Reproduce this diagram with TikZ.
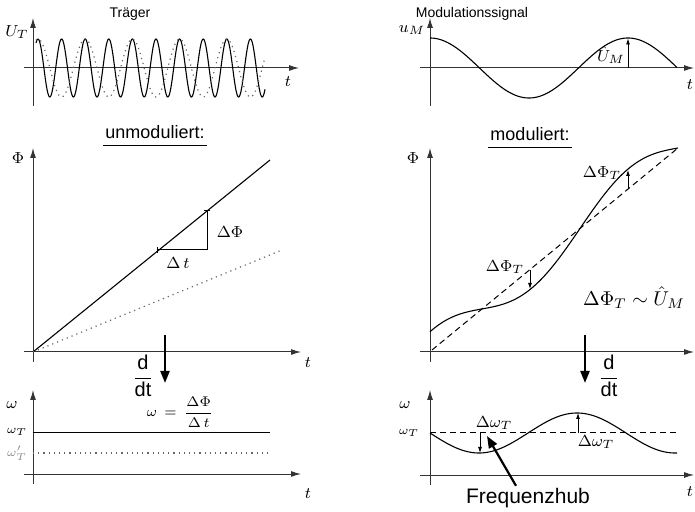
\documentclass[tikz,border=0pt]{standalone}
\usepackage{amsmath}
\usepackage{fontspec}
\setsansfont{Liberation Sans}
\usetikzlibrary{arrows.meta, positioning}

\begin{document}
\begin{tikzpicture}[
    x=0.5pt, y=-0.5pt,
    axis/.style={-{Latex[length=5pt,width=3pt]}, line width=0.5pt, black!80},
    curve/.style={line width=0.55pt},
    dotline/.style={dotted, line width=0.6pt, black!60},
    dashline/.style={dash pattern=on 3pt off 2pt, line width=0.5pt},
    dev/.style={-{Latex[length=3pt,width=2pt]}, line width=0.4pt},
    bigarrow/.style={-{Triangle[length=6pt,width=4.5pt]}, line width=1.1pt},
    title/.style={font=\sffamily\fontsize{7}{8}\selectfont},
    head/.style={font=\sffamily\fontsize{9}{10}\selectfont, inner sep=1pt},
    lbl/.style={font=\fontsize{8}{9}\selectfont, inner sep=1pt},
    small/.style={font=\fontsize{6}{7}\selectfont, inner sep=1pt},
    ddt/.style={font=\sffamily\fontsize{10}{11}\selectfont, inner sep=1pt}
]
    \useasboundingbox (0,0) rectangle (695,512);

    % Traeger
    \coordinate (ut-top) at (33,18);
    \coordinate (ut-bot) at (33,106);
    \coordinate (ut-l) at (24,68);
    \coordinate (ut-r) at (299,68);
    \draw[axis] (ut-bot) -- (ut-top);
    \draw[axis] (ut-l) -- (ut-r);
    \draw[curve] plot[domain=36:265, samples=400, smooth] (\x, {68-29*cos((\x-38)*15.254)});
    \draw[dotline] plot[domain=36:265, samples=200, smooth] (\x, {68-29*cos((\x-38)*7.627)});
    \node[lbl] (ut-y) at (17,32) {$U_T$};
    \node[lbl] (ut-x) at (288,82) {$t$};
    \node[title] (traeger) at (130,14) {Träger};

    % Modulationssignal
    \coordinate (um-top) at (430,18);
    \coordinate (um-bot) at (430,106);
    \coordinate (um-l) at (420,68);
    \coordinate (um-r) at (694,68);
    \draw[axis] (um-bot) -- (um-top);
    \draw[axis] (um-l) -- (um-r);
    \draw[curve] plot[domain=430:677, samples=200, smooth] (\x, {68-30*cos((\x-430)*1.8182)});
    \coordinate (um-a) at (628,68);
    \coordinate (um-b) at (628,38.5);
    \draw[dev] (um-a) -- (um-b);
    \node[lbl] (um-hat) at (611,55) {$\hat{U}_M$};
    \node[lbl] (um-y) at (412,30) {$u_M$};
    \node[lbl] (um-x) at (690,85) {$t$};
    \node[title] (modsig) at (472,14) {Modulationssignal};

    % unmoduliert
    \node[head] (unmod) at (155,132) {unmoduliert:};
    \draw[line width=0.5pt] ([yshift=-2pt]unmod.south west) -- ([yshift=-2pt]unmod.south east);
    \coordinate (pu-o) at (33,352);
    \coordinate (pu-top) at (33,148);
    \coordinate (pu-bot) at (33,362);
    \coordinate (pu-l) at (24,352);
    \coordinate (pu-r) at (301,352);
    \draw[axis] (pu-bot) -- (pu-top);
    \draw[axis] (pu-l) -- (pu-r);
    \coordinate (pu-end) at (270,160);
    \draw[curve] (pu-o) -- (pu-end);
    \coordinate (pu-end2) at (282,250);
    \draw[dotline] (pu-o) -- (pu-end2);
    \coordinate (tri-a) at (157,250);
    \coordinate (tri-b) at (207,250);
    \coordinate (tri-c) at (207,211);
    \draw[line width=0.5pt] (tri-a) -- (tri-b) -- (tri-c);
    \draw[line width=0.5pt] ([yshift=1.5pt]tri-a) -- ([yshift=-1.5pt]tri-a);
    \draw[line width=0.5pt] ([xshift=-1.5pt]tri-c) -- ([xshift=1.5pt]tri-c);
    \node[lbl] (dphi) at (230,232) {$\Delta\Phi$};
    \node[lbl] (dt) at (178,263) {$\Delta\, t$};
    \node[lbl] (pu-y) at (18,158) {$\Phi$};
    \node[lbl] (pu-x) at (308,363) {$t$};

    % d/dt links
    \coordinate (dl-a) at (165,335);
    \coordinate (dl-b) at (165,383);
    \draw[bigarrow] (dl-a) -- (dl-b);
    \node[ddt] (ddt-l) at (143,376) {$\dfrac{\textsf{d}}{\textsf{dt}}$};

    % omega unmoduliert
    \coordinate (wu-top) at (33,390);
    \coordinate (wu-bot) at (33,484);
    \coordinate (wu-l) at (24,474);
    \coordinate (wu-r) at (301,474);
    \draw[axis] (wu-bot) -- (wu-top);
    \draw[axis] (wu-l) -- (wu-r);
    \coordinate (wt-a) at (33,433);
    \coordinate (wt-b) at (270,433);
    \draw[line width=0.5pt] (wt-a) -- (wt-b);
    \coordinate (wt2-a) at (33,453);
    \coordinate (wt2-b) at (272,453);
    \draw[dotline] (wt2-a) -- (wt2-b);
    \node[lbl] (wu-y) at (12,405) {$\omega$};
    \node[small] (wu-t) at (17,432) {$\omega_T$};
    \node[small, black!45] (wu-t2) at (17,453) {$\omega_T'$};
    \node[lbl] (wu-x) at (308,494) {$t$};
    \node[font=\fontsize{7}{8}\selectfont, inner sep=1pt] (wu-eq) at (180,412) {$\omega\,=\,\dfrac{\Delta\Phi}{\Delta\, t}$};

    % moduliert
    \node[head] (mod) at (530,134) {moduliert:};
    \draw[line width=0.5pt] ([yshift=-2pt]mod.south west) -- ([yshift=-2pt]mod.south east);
    \coordinate (pm-o) at (432,350);
    \coordinate (pm-top) at (430,148);
    \coordinate (pm-bot) at (430,362);
    \coordinate (pm-l) at (420,352);
    \coordinate (pm-r) at (694,352);
    \draw[axis] (pm-bot) -- (pm-top);
    \draw[axis] (pm-l) -- (pm-r);
    \coordinate (pm-end) at (678,148);
    \draw[dashline] (pm-o) -- (pm-end);
    \draw[curve] plot[domain=430:678, samples=200, smooth] (\x, {350-0.8211*(\x-432)+20*sin((\x-482)*1.8367)});
    \coordinate (pm-a1) at (530,270);
    \coordinate (pm-b1) at (530,289);
    \draw[dev] (pm-a1) -- (pm-b1);
    \coordinate (pm-a2) at (628,189);
    \coordinate (pm-b2) at (628,170);
    \draw[dev] (pm-a2) -- (pm-b2);
    \node[lbl] (dphi1) at (505,267) {$\Delta\Phi_T$};
    \node[lbl] (dphi2) at (602,173) {$\Delta\Phi_T$};
    \node[font=\fontsize{10}{11}\selectfont, inner sep=1pt] (prop) at (634,298) {$\Delta\Phi_T\sim\hat{U}_M$};
    \node[lbl] (pm-y) at (413,158) {$\Phi$};

    % d/dt rechts
    \coordinate (dr-a) at (585,335);
    \coordinate (dr-b) at (585,383);
    \draw[bigarrow] (dr-a) -- (dr-b);
    \node[ddt] (ddt-r) at (609,376) {$\dfrac{\textsf{d}}{\textsf{dt}}$};

    % omega moduliert
    \coordinate (wm-top) at (430,390);
    \coordinate (wm-bot) at (430,485);
    \coordinate (wm-l) at (420,475);
    \coordinate (wm-r) at (694,475);
    \draw[axis] (wm-bot) -- (wm-top);
    \draw[axis] (wm-l) -- (wm-r);
    \coordinate (wm-a) at (430,433);
    \coordinate (wm-b) at (678,433);
    \draw[dashline] (wm-a) -- (wm-b);
    \draw[curve] plot[domain=430:677, samples=200, smooth] (\x, {433+20*sin((\x-430)*1.8367)});
    \coordinate (dw-a1) at (480,433);
    \coordinate (dw-b1) at (480,453);
    \draw[dev] (dw-a1) -- (dw-b1);
    \coordinate (dw-a2) at (578,433);
    \coordinate (dw-b2) at (578,413);
    \draw[dev] (dw-a2) -- (dw-b2);
    \node[lbl] (dw1) at (494,423) {$\Delta\omega_T$};
    \node[lbl] (dw2) at (596,442) {$\Delta\omega_T$};
    \node[lbl] (wm-y) at (405,405) {$\omega$};
    \node[small] (wm-t) at (409,433) {$\omega_T$};
    \node[lbl] (wm-x) at (690,492) {$t$};

    % Frequenzhub
    \node[font=\sffamily\fontsize{10.5}{12}\selectfont, inner sep=1pt] (fhub) at (528,498) {Frequenzhub};
    \coordinate (fhub-tip) at (487,436);
    \draw[bigarrow] ([xshift=-6pt]fhub.north) -- (fhub-tip);

\end{tikzpicture}
\end{document}
